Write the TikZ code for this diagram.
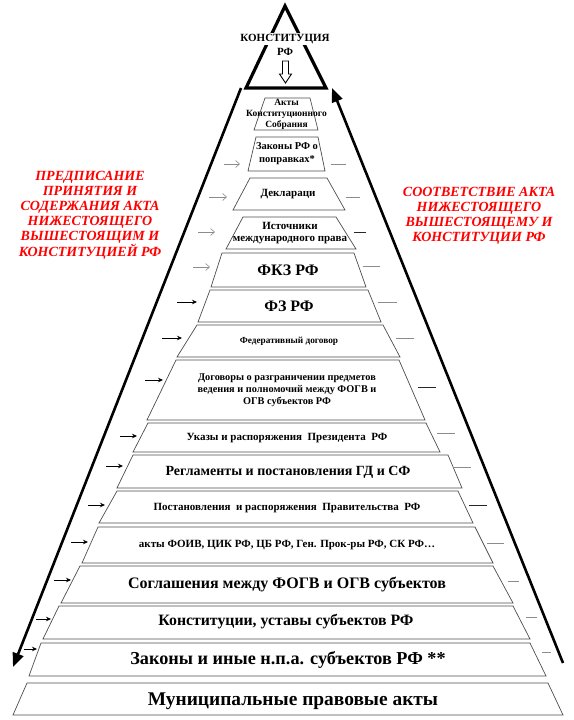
\documentclass[tikz,border=0pt]{standalone}
\usepackage{fontspec}
\setmainfont{Liberation Serif}
\usetikzlibrary{arrows.meta}

\begin{document}
\begin{tikzpicture}[x=1pt,y=-1pt,
    band/.style={draw=black!70,line width=.7pt},
    lbl/.style 2 args={align=center,inner sep=0pt,font=\bfseries\fontsize{#1}{#2}\selectfont},
    redlbl/.style={align=center,inner sep=0pt,text=red,font=\bfseries\itshape\fontsize{14}{15}\selectfont},
    garr/.style={-{Straight Barb[length=4pt,width=7pt]},draw=black!45,line width=.6pt},
    barr/.style={-{Stealth[length=5pt,width=4.5pt]},draw=black,line width=.8pt},
    gtick/.style={draw=black!45,line width=.7pt},
    btick/.style={draw=black!85,line width=.8pt},
    big/.style={line width=2.6pt,-{Triangle[length=14pt,width=11pt]}}]
  \useasboundingbox (0,0) rectangle (573,720);

  % top: the constitution
  \draw[line width=3.2pt,line join=miter] (285,6) -- (326,88) -- (246,88) -- cycle;
  \node[lbl={11}{13},fill=white,inner ysep=1pt] (konstrf) at (285,39) {КОНСТИТУЦИЯ};
  \node[lbl={11}{13}] (rf) at (285,52) {РФ};
  \draw[line width=.9pt,fill=white] (282.5,61) -- (288.5,61) -- (288.5,74) -- (291.5,74)
    -- (285.5,83) -- (279.5,74) -- (282.5,74) -- cycle;

  % the two long arrows
  \coordinate (lt) at (241,88);
  \coordinate (lb) at (13,667);
  \coordinate (rb) at (563,663);
  \coordinate (rt) at (332,88);
  \draw[big] (lt) -- (lb);
  \draw[big] (rb) -- (rt);

  % red captions
  \node[redlbl] (predp) at (90,215.5)
    {ПРЕДПИСАНИЕ\\ПРИНЯТИЯ И\\СОДЕРЖАНИЯ АКТА\\НИЖЕСТОЯЩЕГО\\ВЫШЕСТОЯЩИМ И\\КОНСТИТУЦИЕЙ РФ};
  \node[redlbl] (sootv) at (479,216)
    {СООТВЕТСТВИЕ АКТА\\НИЖЕСТОЯЩЕГО\\ВЫШЕСТОЯЩЕМУ И\\КОНСТИТУЦИИ РФ};

  % the bands, top to bottom
  \draw[band] (265,98) -- (310,98) -- (318,130) -- (254,130) -- cycle;
  \node[lbl={9.5}{11}] (akty) at (286.5,114) {Акты\\Конституционного\\Собрания};
  \draw[band] (256,137) -- (318,137) -- (325,171) -- (248,171) -- cycle;
  \node[lbl={10.5}{13}] (popravki) at (287,153.5) {Законы РФ о\\поправках*};
  \draw[band] (250,178) -- (327,178) -- (345,210) -- (233,210) -- cycle;
  \node[lbl={11}{13}] (deklar) at (288,194) {Деклараци};
  \draw[band] (243,217) -- (336,217) -- (356,249) -- (226,249) -- cycle;
  \node[lbl={11}{12}] (istochn) at (290,233) {Источники\\международного права};
  \draw[band] (222,253) -- (354,253) -- (366,287) -- (211,287) -- cycle;
  \node[lbl={16}{18}] (fkz) at (288,270) {ФКЗ РФ};
  \draw[band] (210,290) -- (368,290) -- (381,322) -- (198,322) -- cycle;
  \node[lbl={16}{18}] (fz) at (289,306.5) {ФЗ РФ};
  \draw[band] (197,325) -- (383,325) -- (400,357) -- (177,357) -- cycle;
  \node[lbl={9.3}{10}] (fedgov) at (289,341) {Федеративный договор};
  \draw[band] (176,360) -- (399,360) -- (425,420) -- (147,420) -- cycle;
  \node[lbl={10.3}{12}] (dogov) at (287,390)
    {Договоры о разграничении предметов\\ведения и полномочий между ФОГВ и\\ОГВ субъектов РФ};
  \draw[band] (148,423) -- (426,423) -- (440,452) -- (133,452) -- cycle;
  \node[lbl={11}{12}] (ukazy) at (287,438) {Указы и распоряжения\enspace Президента\enspace РФ};
  \draw[band] (133,455) -- (448,455) -- (462,488) -- (117,488) -- cycle;
  \node[lbl={14}{16}] (reglam) at (288,472) {Регламенты и постановления ГД и СФ};
  \draw[band] (117,491) -- (458,491) -- (473,523) -- (99,523) -- cycle;
  \node[lbl={11}{12}] (postan) at (287,508)
    {Постановления\enspace и распоряжения\enspace Правительства\enspace РФ};
  \draw[band] (98,527) -- (475,527) -- (493,563) -- (82,563) -- cycle;
  \node[lbl={11}{13}] (foiv) at (287,545) {акты ФОИВ, ЦИК РФ, ЦБ РФ, Ген. Прок-ры РФ, СК РФ…};
  \draw[band] (80,566) -- (493,566) -- (513,603) -- (61,603) -- cycle;
  \node[lbl={16}{18}] (soglash) at (287,584) {Соглашения между ФОГВ и ОГВ субъектов};
  \draw[band] (59,606) -- (513,606) -- (530,639) -- (43,639) -- cycle;
  \node[lbl={15.8}{17}] (konst) at (286,622) {Конституции, уставы субъектов РФ};
  \draw[band] (41,643) -- (530,643) -- (546,676) -- (29,676) -- cycle;
  \node[lbl={18.2}{19}] (zakony) at (288,660) {Законы и иные н.п.а. субъектов РФ **};
  \draw[band] (27,683) -- (548,683) -- (563,715) -- (13,715) -- cycle;
  \node[lbl={19.4}{22}] (munic) at (293,701) {Муниципальные правовые акты};

  % small arrows on the left
  \coordinate (l2a) at (224,164); \coordinate (l2b) at (240,164);
  \coordinate (l3a) at (209,197); \coordinate (l3b) at (227,197);
  \coordinate (l4a) at (198,232); \coordinate (l4b) at (215,232);
  \coordinate (l5a) at (193,267); \coordinate (l5b) at (210,267);
  \draw[garr] (l2a) -- (l2b);
  \draw[garr] (l3a) -- (l3b);
  \draw[garr] (l4a) -- (l4b);
  \draw[garr] (l5a) -- (l5b);
  \coordinate (l6a) at (177,302); \coordinate (l6b) at (197,302);
  \coordinate (l7a) at (162,338); \coordinate (l7b) at (182,338);
  \coordinate (l8a) at (145,380); \coordinate (l8b) at (163,380);
  \coordinate (l9a) at (120,436); \coordinate (l9b) at (137,436);
  \coordinate (l10a) at (106,466); \coordinate (l10b) at (123,466);
  \coordinate (l11a) at (88,505); \coordinate (l11b) at (105,505);
  \coordinate (l12a) at (71,542); \coordinate (l12b) at (88,542);
  \coordinate (l13a) at (54,580); \coordinate (l13b) at (71,580);
  \coordinate (l14a) at (36,619); \coordinate (l14b) at (51,619);
  \coordinate (l15a) at (24,649); \coordinate (l15b) at (37,649);
  \draw[barr] (l6a) -- (l6b);
  \draw[barr] (l7a) -- (l7b);
  \draw[barr] (l8a) -- (l8b);
  \draw[barr] (l9a) -- (l9b);
  \draw[barr] (l10a) -- (l10b);
  \draw[barr] (l11a) -- (l11b);
  \draw[barr] (l12a) -- (l12b);
  \draw[barr] (l13a) -- (l13b);
  \draw[barr] (l14a) -- (l14b);
  \draw[barr] (l15a) -- (l15b);

  % dashes on the right
  \coordinate (r2a) at (331,164); \coordinate (r2b) at (346,164);
  \coordinate (r3a) at (346,197); \coordinate (r3b) at (360,197);
  \coordinate (r4a) at (354,232); \coordinate (r4b) at (366,232);
  \coordinate (r5a) at (363,266); \coordinate (r5b) at (380,266);
  \draw[gtick] (r2a) -- (r2b);
  \draw[gtick] (r3a) -- (r3b);
  \draw[btick] (r4a) -- (r4b);
  \draw[gtick] (r5a) -- (r5b);
  \coordinate (r6a) at (378,302); \coordinate (r6b) at (397,302);
  \coordinate (r7a) at (396,338); \coordinate (r7b) at (414,338);
  \coordinate (r8a) at (418,387); \coordinate (r8b) at (436,387);
  \coordinate (r9a) at (437,433); \coordinate (r9b) at (455,433);
  \coordinate (r10a) at (453,467); \coordinate (r10b) at (471,467);
  \coordinate (r11a) at (469,505); \coordinate (r11b) at (487,505);
  \coordinate (r12a) at (487,543); \coordinate (r12b) at (504,543);
  \coordinate (r13a) at (508,581); \coordinate (r13b) at (519,581);
  \coordinate (r14a) at (526,617); \coordinate (r14b) at (537,617);
  \coordinate (r15a) at (542,652); \coordinate (r15b) at (551,652);
  \draw[gtick] (r6a) -- (r6b);
  \draw[gtick] (r7a) -- (r7b);
  \draw[btick] (r8a) -- (r8b);
  \draw[gtick] (r9a) -- (r9b);
  \draw[gtick] (r10a) -- (r10b);
  \draw[btick] (r11a) -- (r11b);
  \draw[gtick] (r12a) -- (r12b);
  \draw[gtick] (r13a) -- (r13b);
  \draw[gtick] (r14a) -- (r14b);
  \draw[gtick] (r15a) -- (r15b);
\end{tikzpicture}
\end{document}
